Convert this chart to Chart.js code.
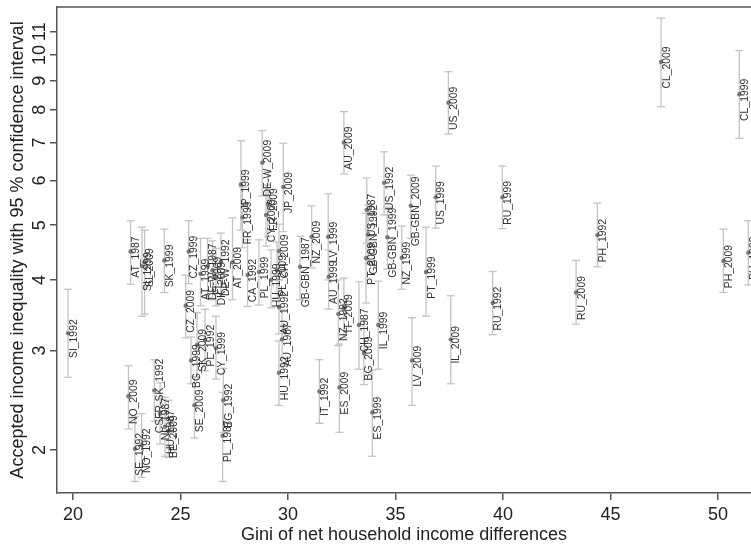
<!DOCTYPE html>
<html>
<head>
<meta charset="utf-8">
<script src="https://cdn.jsdelivr.net/npm/chart.js@4.4.1/dist/chart.umd.min.js"></script>
<style>
  html, body { margin: 0; padding: 0; background: #fff; }
  canvas { display: block; }
</style>
</head>
<body>
<canvas id="giniChart" width="751" height="547"></canvas>
<script>
// Country-year cases
const labels = [
  'SI_1992', 'NO_2009', 'SE_1992', 'NO_1992', 'AT_1987', 'SI_1999', 'SI_2009', 'CSFR-SK_1992',
  'NL_1987', 'HU_1987', 'BE_2009', 'SK_1999', 'CZ_2009', 'CZ_1999', 'BG_1999', 'SE_2009',
  'SK_2009', 'AT_1999', 'PL_1992', 'DE-W_1987', 'FI_2009', 'DK_2009', 'CY_1999', 'DE-W_1992',
  'PL_1987', 'BG_1992', 'AT_2009', 'JP_1999', 'FR_1999', 'CA_1992', 'PL_1999', 'DE-W_2009',
  'CY_2009', 'FR_2009', 'HU_1999', 'PL_2009', 'CH_2009', 'AU_1992', 'HU_1992', 'AU_1987',
  'JP_2009', 'GB-GBN_1987', 'NZ_2009', 'IT_1992', 'LV_1999', 'AU_1999', 'NZ_1992', 'ES_2009',
  'AU_2009', 'IT_2009', 'CH_1987', 'BG_2009', 'PT_2009', 'US_1987', 'GB-GBN_1992', 'ES_1999',
  'IL_1999', 'US_1992', 'GB-GBN_1999', 'NZ_1999', 'GB-GBN_2009', 'LV_2009', 'PT_1999', 'US_1999',
  'US_2009', 'IL_2009', 'RU_1992', 'RU_1999', 'RU_2009', 'PH_1992', 'CL_2009', 'PH_2009',
  'CL_1999', 'PH_1999'
];

// Gini of net household income
const gini = [
  19.77, 22.58, 22.88, 23.19, 22.68, 23.21, 23.33, 23.78,
  24.05, 24.28, 24.44, 24.25, 25.24, 25.38, 25.49, 25.65,
  25.77, 25.93, 26.14, 26.26, 26.49, 26.65, 26.65, 26.88,
  26.96, 26.99, 27.42, 27.81, 27.88, 28.12, 28.65, 28.80,
  28.98, 29.07, 29.21, 29.49, 29.58, 29.58, 29.58, 29.72,
  29.78, 30.56, 31.10, 31.46, 31.87, 31.89, 32.34, 32.39,
  32.60, 32.60, 33.30, 33.53, 33.63, 33.66, 33.73, 33.92,
  34.20, 34.47, 34.62, 35.29, 35.71, 35.77, 36.42, 36.87,
  37.46, 37.57, 39.52, 39.97, 43.40, 44.39, 47.35, 50.25,
  50.99, 51.41
];

// Accepted income inequality (point estimate)
const accepted = [
  3.22, 2.49, 2.01, 2.04, 4.49, 4.23, 4.30, 2.55,
  2.32, 2.20, 2.16, 4.33, 3.60, 4.49, 2.88, 2.40,
  3.07, 4.10, 3.13, 4.23, 4.16, 4.03, 3.03, 4.30,
  2.12, 2.45, 4.30, 5.90, 5.16, 4.08, 4.13, 6.45,
  5.21, 5.45, 4.00, 4.16, 4.50, 3.58, 2.74, 3.14,
  5.84, 4.22, 4.77, 2.54, 4.77, 4.05, 3.48, 2.58,
  7.00, 3.57, 3.33, 2.97, 4.37, 5.32, 4.82, 2.33,
  3.33, 5.94, 4.76, 4.38, 5.41, 2.88, 4.13, 5.60,
  8.23, 3.14, 3.64, 5.60, 3.80, 4.80, 9.72, 4.32,
  8.52, 4.47
];

// 95 % confidence interval bounds
const ciLow = [
  2.69, 2.18, 1.76, 1.79, 3.93, 3.45, 3.48, 2.25,
  2.05, 1.95, 1.94, 3.80, 3.16, 3.94, 2.62, 2.10,
  2.69, 3.60, 2.76, 3.72, 3.69, 3.60, 2.67, 3.81,
  1.76, 2.15, 3.69, 4.90, 4.56, 3.59, 3.61, 5.63,
  4.59, 4.78, 3.57, 3.72, 4.00, 3.21, 2.40, 2.82,
  4.87, 3.69, 4.20, 2.23, 4.00, 3.55, 3.06, 2.15,
  6.16, 3.16, 2.78, 2.61, 3.64, 4.65, 4.27, 1.95,
  2.78, 5.21, 4.18, 3.85, 4.74, 2.40, 3.45, 4.94,
  7.25, 2.62, 3.20, 4.93, 3.34, 4.22, 8.10, 3.80,
  7.12, 3.92
];
const ciHigh = [
  3.85, 2.82, 2.29, 2.32, 5.09, 4.96, 4.90, 2.89,
  2.63, 2.48, 2.45, 4.92, 4.08, 5.09, 3.17, 2.70,
  3.50, 4.74, 3.55, 4.74, 4.69, 4.55, 3.45, 4.84,
  2.53, 2.79, 5.15, 7.05, 5.84, 4.71, 4.71, 7.35,
  5.89, 6.21, 4.52, 4.67, 5.02, 4.00, 3.12, 3.54,
  6.98, 4.78, 5.41, 2.89, 5.68, 4.52, 4.00, 3.08,
  7.94, 4.03, 3.97, 3.40, 5.25, 6.06, 5.43, 2.77,
  3.98, 6.74, 5.38, 4.98, 6.13, 3.43, 4.96, 6.36,
  9.34, 3.75, 4.14, 6.36, 4.33, 5.47, 11.62, 4.92,
  10.18, 5.09
];

const xTicks = [20, 25, 30, 35, 40, 45, 50];
const yTicks = [2, 3, 4, 5, 6, 7, 8, 9, 10, 11];

const family = '"Liberation Sans", Arial, Helvetica, sans-serif';
const axisGrey = '#555';

// whiskers: low -> high, then a gap
const whiskers = [];
gini.forEach((g, i) => {
  whiskers.push({ x: g, y: ciLow[i] }, { x: g, y: ciHigh[i] }, { x: g, y: null });
});
const points = gini.map((g, i) => ({ x: g, y: accepted[i] }));

// vertical case labels under each point
const pointLabels = {
  id: 'pointLabels',
  afterDatasetsDraw(chart) {
    const { ctx } = chart;
    const meta = chart.getDatasetMeta(0);
    ctx.save();
    ctx.font = '10.4px ' + family;
    ctx.fillStyle = '#333';
    ctx.textAlign = 'center';
    ctx.textBaseline = 'top';
    meta.data.forEach((pt, i) => {
      ctx.save();
      ctx.translate(pt.x + 0.5, pt.y + 5.5);
      ctx.rotate(-Math.PI / 2);
      ctx.fillText(labels[i], 0, 0);
      ctx.restore();
    });
    ctx.restore();
  }
};

// top edge of the plot frame
const topBorder = {
  id: 'topBorder',
  afterDraw(chart) {
    const { ctx, chartArea: a } = chart;
    ctx.save();
    ctx.strokeStyle = axisGrey;
    ctx.lineWidth = 1.5;
    ctx.beginPath();
    ctx.moveTo(a.left, a.top);
    ctx.lineTo(a.right, a.top);
    ctx.stroke();
    ctx.restore();
  }
};

const gridOpts = { drawOnChartArea: false, drawTicks: true, tickLength: 7, color: axisGrey, lineWidth: 1.5 };
const borderOpts = { display: true, color: axisGrey, width: 1.5 };

function noPadding(s) {
  s.paddingTop = 0; s.paddingBottom = 0; s.paddingLeft = 0; s.paddingRight = 0;
}

new Chart(document.getElementById('giniChart'), {
  type: 'scatter',
  data: {
    datasets: [
      {
        data: points,
        pointRadius: 2.2,
        pointBackgroundColor: '#7a7a7a',
        pointBorderWidth: 0
      },
      {
        data: whiskers,
        showLine: true,
        spanGaps: false,
        borderColor: '#c4c4c4',
        borderWidth: 1.3,
        pointStyle: 'line',
        pointRadius: 4,
        pointBorderColor: '#c4c4c4',
        pointBorderWidth: 1.3
      }
    ]
  },
  options: {
    responsive: false,
    animation: false,
    events: [],
    layout: { autoPadding: false, padding: { top: 7, right: 0, bottom: 0, left: 0 } },
    plugins: { legend: { display: false }, tooltip: { enabled: false } },
    scales: {
      x: {
        type: 'linear',
        min: 19.256,
        max: 51.535,
        afterBuildTicks: s => { s.ticks = xTicks.map(v => ({ value: v })); },
        afterFit: s => { s.height = 54; noPadding(s); },
        ticks: { autoSkip: false, maxRotation: 0, padding: 4, color: '#222', font: { size: 18, family } },
        grid: gridOpts,
        border: borderOpts,
        title: {
          display: true,
          text: 'Gini of net household income differences',
          color: '#222',
          font: { size: 18, family, lineHeight: 1 },
          padding: { top: 0, bottom: 2.5 }
        }
      },
      y: {
        type: 'logarithmic',
        min: 1.679,
        max: 12.16,
        afterBuildTicks: s => { s.ticks = yTicks.map(v => ({ value: v })); },
        afterFit: s => { s.width = 57; noPadding(s); },
        ticks: {
          autoSkip: false, minRotation: 90, maxRotation: 90, crossAlign: 'center', padding: 0,
          color: '#222', font: { size: 18, family },
          callback: v => String(v)
        },
        grid: gridOpts,
        border: borderOpts,
        title: {
          display: true,
          text: 'Accepted income inequality with 95 % confidence interval',
          color: '#222',
          font: { size: 18, family, lineHeight: 1 },
          padding: { top: 9.5, bottom: 0 }
        }
      }
    }
  },
  plugins: [pointLabels, topBorder]
});
</script>
</body>
</html>
